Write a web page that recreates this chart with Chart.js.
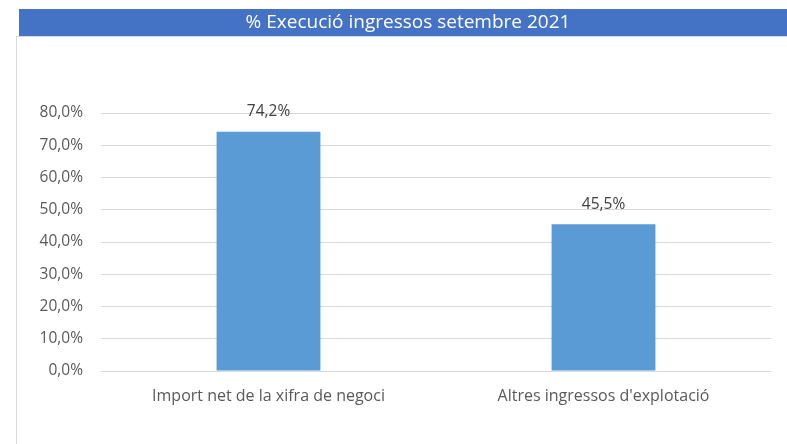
<!DOCTYPE html>
<html>
<head>
<meta charset="utf-8">
<script src="https://cdn.jsdelivr.net/npm/chart.js@4/dist/chart.umd.min.js"></script>
<style>
  html, body { margin: 0; padding: 0; background: #fff; }
  #wrap { width: 787px; height: 444px; position: relative; }
</style>
</head>
<body>
<div id="wrap"><canvas id="chart" width="787" height="444"></canvas></div>
<script>
const titleText = '% Execució ingressos setembre 2021'
const categories = ['Import net de la xifra de negoci', "Altres ingressos d'explotació"]
const executionPct = [74.2, 45.5]
const yTicks = [0, 10, 20, 30, 40, 50, 60, 70, 80]

const textColor = '#595959'
const fontFamily = '"Open Sans", "Noto Sans", sans-serif'

const fmtPct = v => v.toFixed(1).replace('.', ',') + '%'

// blue title strip with its text, and the thin frame round the chart
const frame = {
    id: 'frame',
    beforeDraw(chart) {
        const {ctx} = chart
        ctx.save()
        ctx.fillStyle = '#4472C4'
        ctx.fillRect(19, 9, 768, 27)
        ctx.strokeStyle = '#d9d9d9'
        ctx.lineWidth = 1
        ctx.beginPath()
        ctx.moveTo(16, 36.5)
        ctx.lineTo(787, 36.5)
        ctx.moveTo(16.5, 36)
        ctx.lineTo(16.5, 444)
        ctx.stroke()
        ctx.font = '19px ' + fontFamily
        ctx.fillStyle = '#ffffff'
        ctx.textAlign = 'center'
        ctx.textBaseline = 'middle'
        ctx.fillText(titleText, 408, 23)
        ctx.restore()
    }
}

const valueLabels = {
    id: 'valueLabels',
    afterDatasetsDraw(chart) {
        const {ctx} = chart
        const meta = chart.getDatasetMeta(0)
        ctx.save()
        ctx.font = '15.5px ' + fontFamily
        ctx.fillStyle = '#404040'
        ctx.textAlign = 'center'
        ctx.textBaseline = 'middle'
        meta.data.forEach((bar, i) => {
            ctx.fillText(fmtPct(chart.data.datasets[0].data[i]), bar.x, bar.y - 20)
        })
        ctx.restore()
    }
}

new Chart(document.getElementById('chart'), {
    type: 'bar',
    data: {
        labels: categories,
        datasets: [{
            data: executionPct,
            backgroundColor: '#5B9BD5',
            borderWidth: 0,
            barPercentage: 0.62,
            categoryPercentage: 0.5,
        }]
    },
    options: {
        responsive: false,
        animation: false,
        layout: {padding: {left: 0, right: 16, top: 113, bottom: 0}},
        plugins: {
            legend: {display: false},
            tooltip: {enabled: false},
            title: {display: false},
        },
        scales: {
            x: {
                grid: {display: false, drawTicks: false},
                border: {display: false},
                ticks: {color: textColor, font: {family: fontFamily, size: 16}, padding: 16, maxRotation: 0},
                afterFit: scale => { scale.height = 73 },
            },
            y: {
                min: 0,
                max: 80,
                afterBuildTicks: scale => { scale.ticks = yTicks.map(v => ({value: v})) },
                grid: {color: '#d9d9d9', drawTicks: false},
                border: {display: false},
                ticks: {color: textColor, font: {family: fontFamily, size: 15.5}, padding: 18, callback: v => fmtPct(v)},
                afterFit: scale => { scale.width = 101 },
            }
        }
    },
    plugins: [frame, valueLabels]
})
</script>
</body>
</html>
